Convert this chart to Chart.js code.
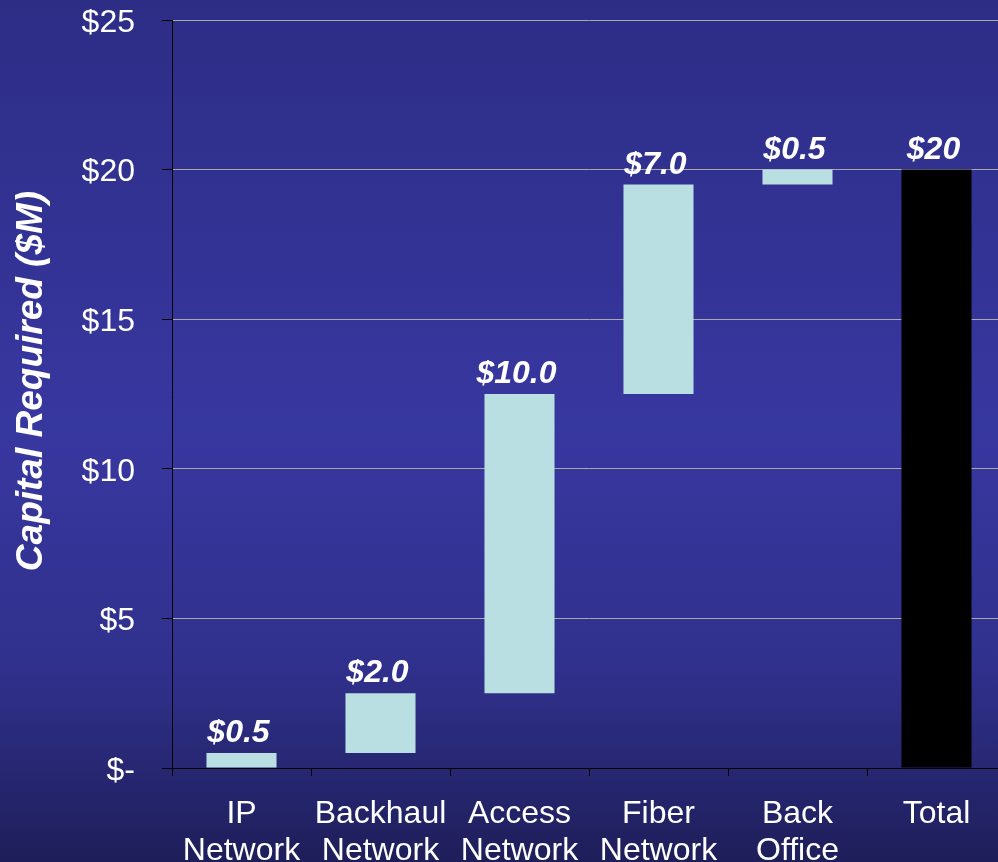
<!DOCTYPE html>
<html>
<head>
<meta charset="utf-8">
<script src="https://cdn.jsdelivr.net/npm/chart.js@4.4.1/dist/chart.umd.min.js"></script>
<style>
  html, body { margin: 0; padding: 0; overflow: hidden; background: #2d2d85; }
  #wrap { width: 1010px; height: 862px; }
</style>
</head>
<body>
<div id="wrap"><canvas id="c" width="1010" height="862"></canvas></div>
<script>
const categories = [["IP", "Network"], ["Backhaul", "Network"], ["Access", "Network"], ["Fiber", "Network"], ["Back", "Office"], ["Total"]];
const increments = [0.5, 2.0, 10.0, 7.0, 0.5];
const totalValue = 20;
const valueLabels = ["$0.5", "$2.0", "$10.0", "$7.0", "$0.5", "$20"];
const yTickValues = [0, 5, 10, 15, 20, 25];
const yTickLabels = ["$-", "$5", "$10", "$15", "$20", "$25"];
const yAxisTitle = "Capital Required ($M)";

// floating ranges built from the increments (waterfall)
const ranges = [];
let run = 0;
increments.forEach(v => { ranges.push([run, run + v]); run += v; });
ranges.push([0, totalValue]);
const barColors = ranges.map((r, i) => i === ranges.length - 1 ? "#000000" : "#b9dfe2");

const bgPlugin = {
  id: "bg",
  beforeDraw(chart) {
    const ctx = chart.ctx;
    const g = ctx.createLinearGradient(0, 0, 0, chart.height);
    g.addColorStop(0, "#2d2d86");
    g.addColorStop(0.5, "#3737a0");
    g.addColorStop(0.78, "#30308c");
    g.addColorStop(1, "#1e1e5a");
    ctx.save();
    ctx.fillStyle = g;
    ctx.fillRect(0, 0, chart.width, chart.height);
    ctx.restore();
  }
};

const labelPlugin = {
  id: "vlabels",
  afterDatasetsDraw(chart) {
    const ctx = chart.ctx;
    const meta = chart.getDatasetMeta(0);
    ctx.save();
    ctx.fillStyle = "#ffffff";
    ctx.font = "italic bold 32px 'Liberation Sans', Arial, sans-serif";
    ctx.textAlign = "center";
    ctx.textBaseline = "alphabetic";
    meta.data.forEach((el, i) => {
      ctx.fillText(valueLabels[i], el.x - 3, el.y - 11);
    });
    ctx.restore();
  },
  afterDraw(chart) {
    const ctx = chart.ctx;
    const ca = chart.chartArea;
    ctx.save();
    ctx.translate(32, (ca.top + ca.bottom) / 2 - 13);
    ctx.rotate(-Math.PI / 2);
    ctx.fillStyle = "#ffffff";
    ctx.font = "italic bold 37px 'Liberation Sans', Arial, sans-serif";
    ctx.textAlign = "center";
    ctx.textBaseline = "middle";
    ctx.fillText(yAxisTitle, 0, 0);
    ctx.restore();
  }
};

new Chart(document.getElementById("c"), {
  type: "bar",
  data: {
    labels: categories,
    datasets: [{
      data: ranges,
      backgroundColor: barColors,
      borderWidth: 0,
      categoryPercentage: 1,
      barPercentage: 0.504
    }]
  },
  options: {
    responsive: false,
    animation: false,
    events: [],
    layout: { padding: { top: 20, right: 4, left: 0, bottom: 0 } },
    plugins: { legend: { display: false }, tooltip: { enabled: false } },
    scales: {
      x: {
        offset: true,
        grid: { offset: true, drawOnChartArea: false, drawTicks: true, tickLength: 8, color: "#000000", lineWidth: 1 },
        border: { color: "#000000", width: 1 },
        ticks: {
          color: "#ffffff",
          font: { family: "'Liberation Sans', Arial, sans-serif", size: 32, lineHeight: 1.18 },
          padding: 19,
          maxRotation: 0,
          autoSkip: false
        },
        afterFit(s) { s.height = 94; s.paddingLeft = 0; s.paddingRight = 0; }
      },
      y: {
        min: 0,
        max: 25,
        afterBuildTicks(s) { s.ticks = yTickValues.map(v => ({ value: v })); },
        grid: {
          color: ctx => ctx.tick && ctx.tick.value === 0 ? "rgba(0,0,0,0)" : "#a8a8b0",
          tickColor: "#000000",
          lineWidth: 1,
          tickLength: 10
        },
        border: { color: "#000000", width: 1 },
        ticks: {
          color: "#ffffff",
          font: { family: "'Liberation Sans', Arial, sans-serif", size: 32 },
          padding: 27,
          labelOffset: 3,
          callback: (v) => yTickLabels[yTickValues.indexOf(v)]
        },
        title: { display: false },
        afterFit(s) { s.width = 172; s.paddingTop = 0; s.paddingBottom = 0; }
      }
    }
  },
  plugins: [bgPlugin, labelPlugin]
});
</script>
</body>
</html>
